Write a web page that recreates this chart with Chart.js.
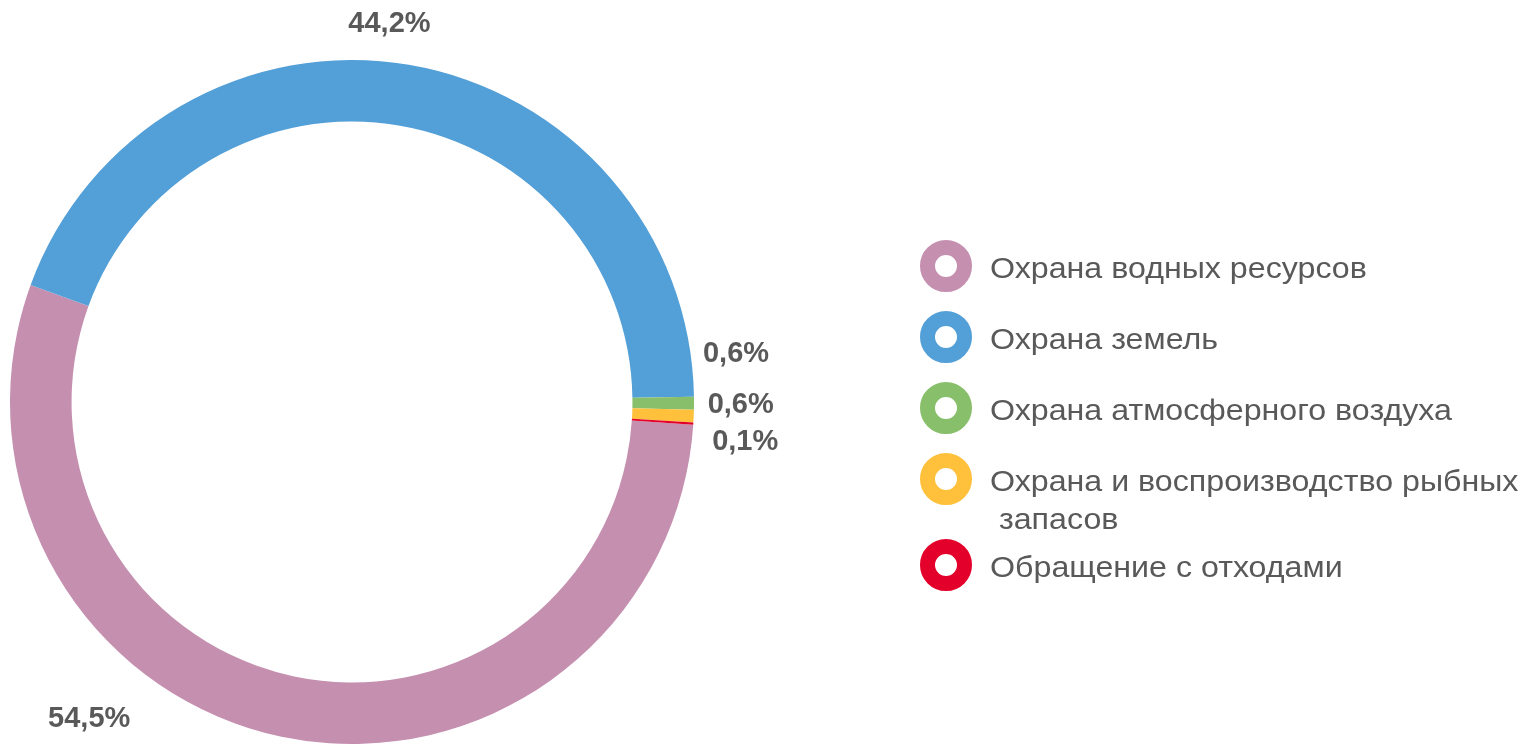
<!DOCTYPE html>
<html lang="ru">
<head>
<meta charset="utf-8">
<script src="https://cdn.jsdelivr.net/npm/chart.js@4/dist/chart.umd.min.js"></script>
<style>
    html, body { margin: 0; padding: 0; background: #fff; }
    #wrap { position: relative; width: 1521px; height: 744px; }
</style>
</head>
<body>
<div id="wrap"><canvas id="costChart"></canvas></div>
<script>
// legend text, long item split in two lines like the original
const legendLines = [
    ['Охрана водных ресурсов'],
    ['Охрана земель'],
    ['Охрана атмосферного воздуха'],
    ['Охрана и воспроизводство рыбных', ' запасов'],
    ['Обращение с отходами']
];
const categories = legendLines.map(l => l.join(''));
const shares = [54.5, 44.2, 0.6, 0.6, 0.1];
const colors = ['#C58FB0', '#539FD7', '#88BF6B', '#FFC13C', '#E3002B'];
// label offsets (px) from the arc's outside middle point
const labelNudge = [[-184, -57], [-26, -1], [2, -49], [7, -13], [12, 16]];

const textGray = '#595959';
const fmt = v => v.toFixed(1).replace('.', ',') + '%';

const valueLabels = {
    id: 'valueLabels',
    afterDatasetsDraw(chart) {
        const ctx = chart.ctx;
        const arcs = chart.getDatasetMeta(0).data;
        ctx.save();
        ctx.font = 'bold 29px "Liberation Sans", Arial, sans-serif';
        ctx.fillStyle = textGray;
        ctx.textAlign = 'center';
        ctx.textBaseline = 'middle';
        arcs.forEach((arc, i) => {
            const mid = (arc.startAngle + arc.endAngle) / 2;
            const r = arc.outerRadius + 40;
            const x = arc.x + Math.cos(mid) * r + labelNudge[i][0];
            const y = arc.y + Math.sin(mid) * r + labelNudge[i][1];
            ctx.fillText(fmt(shares[i]), x, y);
        });
        ctx.restore();
    }
};

const ringLegend = {
    id: 'ringLegend',
    afterDraw(chart) {
        const ctx = chart.ctx;
        let y = 270;
        ctx.save();
        legendLines.forEach((lines, i) => {
            ctx.beginPath();
            ctx.arc(946, y - 4, 18.5, 0, Math.PI * 2);
            ctx.lineWidth = 15;
            ctx.strokeStyle = colors[i];
            ctx.stroke();
            // original text is a bit wider than Liberation Sans
            ctx.save();
            ctx.translate(990, 0);
            ctx.scale(1.11, 1);
            ctx.font = '29px "Liberation Sans", Arial, sans-serif';
            ctx.textBaseline = 'middle';
            ctx.fillStyle = textGray;
            lines.forEach((t, j) => ctx.fillText(t, 0, y + j * 38));
            ctx.restore();
            y += 71 + (lines.length - 1) * 15;
        });
        ctx.restore();
    }
};

new Chart(document.getElementById('costChart'), {
    type: 'doughnut',
    data: {
        labels: categories,
        datasets: [{
            data: shares,
            backgroundColor: colors,
            borderWidth: 0
        }]
    },
    options: {
        responsive: true,
        maintainAspectRatio: false,
        animation: false,
        cutout: '82%',
        rotation: 93.8,
        layout: {
            padding: { left: 10, top: 60, right: 827, bottom: 0 }
        },
        plugins: {
            legend: { display: false },
            tooltip: { enabled: false }
        }
    },
    plugins: [valueLabels, ringLegend]
});
</script>
</body>
</html>
